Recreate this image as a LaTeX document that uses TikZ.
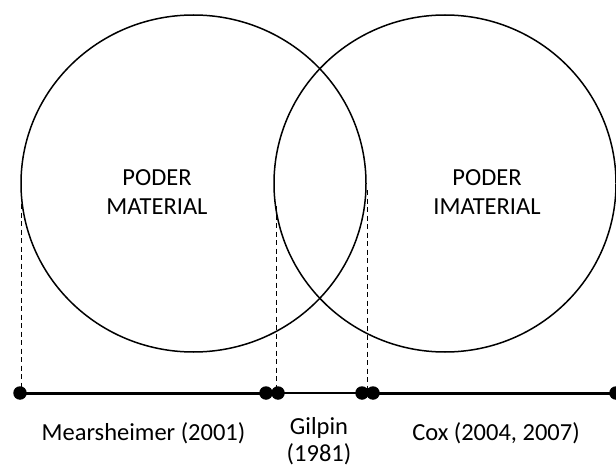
\documentclass[tikz,border=0pt]{standalone}
\usepackage{fontspec}
\setmainfont{Carlito}
\begin{document}
\begin{tikzpicture}[x=1pt,y=-1pt,
  ring/.style={draw=black,line width=1.5pt},
  axis/.style={line width=3pt},
  axisthin/.style={line width=2.6pt},
  guide/.style={line width=1pt,dash pattern=on 5pt off 3.5pt},
  dot/.style={circle,fill=black,inner sep=0pt,minimum size=13.5pt},
  lbl/.style={font=\fontsize{24.5}{29}\selectfont,align=center,inner sep=0pt},
  lbltwo/.style={font=\fontsize{24.5}{27}\selectfont,align=center,inner sep=0pt}]
\useasboundingbox (0,0) rectangle (616,468);
% circles
\draw[ring] (193.5,183.5) ellipse [x radius=172.5,y radius=168.5];
\draw[ring] (445,183.5) ellipse [x radius=171,y radius=168.5];
\node[lbl] (mat) at (157,192) {PODER\\MATERIAL};
\node[lbl] (imat) at (487,192) {PODER\\IMATERIAL};
% axis points
\coordinate (p0) at (20,393);
\coordinate (p1) at (266,393);
\coordinate (p2) at (278,393);
\coordinate (p3) at (362,393);
\coordinate (p4) at (373,393);
\coordinate (p5) at (616,393);
\draw[axis] (p0) -- (p1);
\draw[axisthin] (p2) -- (p3);
\draw[axis] (p4) -- (p5);
\draw[axis] (p1) -- (p2);
\draw[axis] (p3) -- (p4);
\foreach \p in {p0,p1,p2,p3,p4,p5} \node[dot] at (\p) {};
% guides
\coordinate (g0) at (21,204);
\coordinate (g1) at (276,206);
\coordinate (g2) at (367,190);
\draw[guide] (g0) -- (g0 |- p0);
\draw[guide] (g1) -- (g1 |- p0);
\draw[guide] (g2) -- (g2 |- p0);
% labels
\node[lbl] (mear) at (143.5,433) {Mearsheimer (2001)};
\node[lbltwo] (gil) at (319,441) {Gilpin\\(1981)};
\node[lbl] (cox) at (496,433) {Cox (2004, 2007)};
\end{tikzpicture}
\end{document}
